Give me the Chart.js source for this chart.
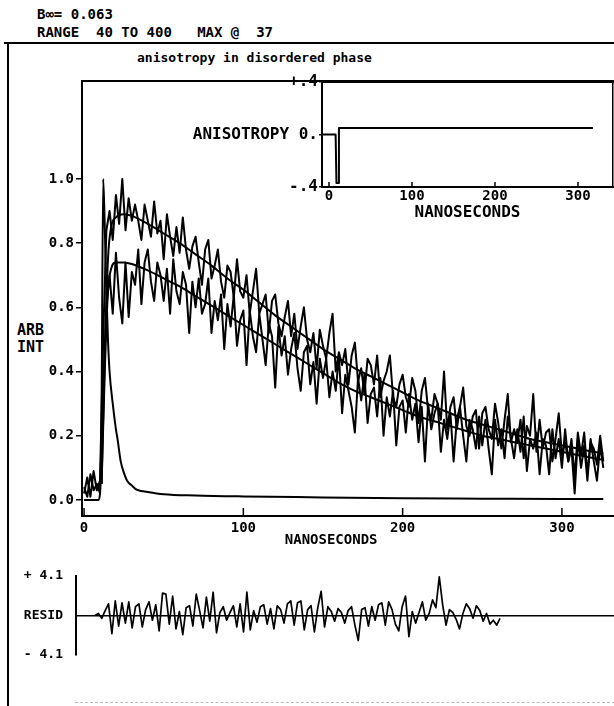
<!DOCTYPE html>
<html><head><meta charset="utf-8">
<script src="https://cdn.jsdelivr.net/npm/chart.js@4.4.1/dist/chart.umd.min.js"></script>
<style>
html,body{margin:0;padding:0;background:#fff;}
#page{position:relative;width:614px;height:706px;overflow:hidden;background:#fff;font-family:'DejaVu Sans Mono',monospace;font-weight:bold;color:#000;}
.t{position:absolute;white-space:pre;line-height:1;}
canvas{position:absolute;}
</style></head><body>
<div id="page">
  <div class="t" style="left:37px;top:7px;font-size:14px">B∞= 0.063</div>
  <div class="t" style="left:37px;top:25px;font-size:14px">RANGE  40 TO 400   MAX @  37</div>
  <div style="position:absolute;left:4px;top:42px;width:620px;height:2px;background:#000"></div>
  <div style="position:absolute;left:7px;top:42px;width:2px;height:680px;background:#000"></div>
  <div class="t" style="left:137px;top:51px;font-size:13px">anisotropy in disordered phase</div>
  <div class="t" style="left:17px;top:323px;font-size:15px">ARB</div>
  <div class="t" style="left:17px;top:340px;font-size:15px">INT</div>
  <div style="position:absolute;left:75px;top:702px;width:540px;height:0;border-top:1px dashed #bbb"></div>
  <canvas id="main" width="614" height="490" style="left:0;top:70px"></canvas>
  <canvas id="inset" width="474" height="160" style="left:140px;top:70px"></canvas>
  <canvas id="resid" width="614" height="151" style="left:0;top:555px"></canvas>
</div>
<script>
// ---------- DATA ----------
const times = [
  0,2,4,6,8,10,
  12,14,16,18,20,22,24,26,28,30,
  32,34,36,38,40,42,44,46,48,50,
  52,54,56,58,60,62,64,66,68,70,
  72,74,76,78,80,82,84,86,88,90,
  92,94,96,98,100,102,104,106,108,110,
  112,114,116,118,120,122,124,126,128,130,
  132,134,136,138,140,142,144,146,148,150,
  152,154,156,158,160,162,164,166,168,170,
  172,174,176,178,180,182,184,186,188,190,
  192,194,196,198,200,202,204,206,208,210,
  212,214,216,218,220,222,224,226,228,230,
  232,234,236,238,240,242,244,246,248,250,
  252,254,256,258,260,262,264,266,268,270,
  272,274,276,278,280,282,284,286,288,290,
  292,294,296,298,300,302,304,306,308,310,
  312,314,316,318,320,322,324,326
];
const upperData = [
  0.02,0.07,0.01,0.09,0.03,0.06,
  0.50,0.84,0.90,0.81,0.95,0.86,1.00,0.84,0.94,0.87,
  0.92,0.87,0.81,0.92,0.87,0.82,0.93,0.83,0.87,0.75,
  0.89,0.82,0.76,0.85,0.77,0.88,0.78,0.72,0.79,0.82,
  0.74,0.67,0.78,0.81,0.69,0.73,0.78,0.68,0.63,0.73,
  0.71,0.63,0.75,0.65,0.63,0.70,0.58,0.65,0.72,0.58,
  0.61,0.64,0.52,0.62,0.64,0.55,0.51,0.57,0.62,0.51,
  0.58,0.47,0.54,0.60,0.50,0.46,0.52,0.41,0.53,0.48,
  0.44,0.52,0.58,0.40,0.46,0.42,0.47,0.36,0.45,0.49,
  0.37,0.41,0.33,0.44,0.42,0.36,0.45,0.32,0.37,0.40,
  0.45,0.32,0.29,0.36,0.39,0.32,0.29,0.38,0.34,0.24,
  0.34,0.38,0.28,0.25,0.33,0.30,0.25,0.40,0.22,0.29,
  0.32,0.22,0.29,0.35,0.23,0.20,0.26,0.28,0.16,0.27,
  0.29,0.22,0.19,0.30,0.24,0.16,0.25,0.33,0.18,0.22,
  0.18,0.25,0.13,0.23,0.20,0.33,0.15,0.25,0.16,0.21,
  0.22,0.12,0.19,0.27,0.14,0.18,0.12,0.19,0.07,0.21,
  0.14,0.21,0.08,0.18,0.16,0.11,0.20,0.12
];
const lowerData = [
  0.04,0.01,0.08,0.03,0.05,0.02,
  0.35,0.60,0.70,0.58,0.77,0.63,0.55,0.74,0.57,0.71,
  0.67,0.78,0.61,0.74,0.78,0.68,0.62,0.74,0.70,0.62,
  0.72,0.58,0.75,0.65,0.61,0.71,0.67,0.52,0.68,0.60,
  0.69,0.58,0.61,0.69,0.52,0.62,0.56,0.64,0.47,0.61,
  0.54,0.64,0.48,0.56,0.59,0.42,0.59,0.51,0.46,0.58,
  0.50,0.42,0.55,0.51,0.35,0.54,0.45,0.51,0.39,0.47,
  0.52,0.41,0.34,0.46,0.48,0.36,0.43,0.30,0.44,0.38,
  0.44,0.32,0.40,0.34,0.45,0.27,0.39,0.34,0.29,0.21,
  0.38,0.31,0.39,0.24,0.33,0.35,0.26,0.38,0.20,0.32,
  0.26,0.34,0.17,0.29,0.31,0.21,0.33,0.25,0.30,0.18,
  0.29,0.12,0.30,0.22,0.27,0.30,0.15,0.25,0.19,0.27,
  0.12,0.25,0.29,0.20,0.12,0.25,0.22,0.16,0.26,0.17,
  0.25,0.16,0.08,0.25,0.17,0.22,0.13,0.26,0.19,0.13,
  0.22,0.15,0.26,0.09,0.19,0.16,0.21,0.08,0.19,0.17,
  0.08,0.22,0.13,0.19,0.10,0.22,0.12,0.16,0.02,0.19,
  0.10,0.17,0.06,0.19,0.12,0.06,0.17,0.10
];
const fitTimes = [11,13,15,17,20,25,30,40,50,60,70,80,90,100,110,120,130,140,150,160,170,180,190,200,210,220,230,240,250,260,270,280,290,300,310,320,326];
const upperFit = [0.05,0.45,0.75,0.85,0.88,0.89,0.885,0.86,0.83,0.80,0.765,0.73,0.69,0.655,0.615,0.575,0.54,0.505,0.47,0.44,0.41,0.385,0.36,0.335,0.31,0.29,0.27,0.25,0.235,0.22,0.205,0.19,0.18,0.17,0.16,0.15,0.145];
const lowerFit = [0.05,0.40,0.65,0.72,0.74,0.74,0.735,0.715,0.69,0.665,0.635,0.605,0.575,0.545,0.515,0.485,0.455,0.425,0.395,0.365,0.34,0.32,0.30,0.28,0.26,0.245,0.23,0.215,0.20,0.19,0.18,0.17,0.16,0.15,0.14,0.13,0.125];
const lampTimes = [0,9,10,11,12,13,14,15,16,18,20,21,23,25,27,30,33,40,50,70,100,150,200,250,300,326];
const lampData = [0,0,0.02,0.3,1.0,0.85,0.65,0.5,0.4,0.3,0.22,0.19,0.12,0.085,0.06,0.045,0.032,0.025,0.018,0.014,0.011,0.008,0.005,0.004,0.003,0.003];

const anisTimes = [-8,8,9,11,12,318];
const anisData = [0,0,-0.37,-0.37,0.05,0.05];

const residChannels = [
  40,43,46,49,52,55,58,61,64,67,
  70,73,76,79,82,85,88,91,94,97,
  100,103,106,109,112,115,118,121,124,127,
  130,133,136,139,142,145,148,151,154,157,
  160,163,166,169,172,175,178,181,184,187,
  190,193,196,199,202,205,208,211,214,217,
  220,223,226,229,232,235,238,241,244,247,
  250,253,256,259,262,265,268,271,274,277,
  280,283,286,289,292,295,298,301,304,307,
  310,313,316,319,322,325,328,331,334,337,
  340,343,346,349,352,355,358,361,364,367,
  370,373,376,379,382,385,388,391,394,397,
  400
];
const residData = [
  0.0,0.2,-0.3,0.5,1.2,-1.9,1.5,-1.1,1.3,-0.8,
  1.4,-1.3,0.9,1.2,-1.2,0.6,1.4,-0.5,1.1,-1.6,
  2.3,2.2,-0.9,2.0,-1.4,0.4,-2.0,0.8,1.0,-1.1,
  2.2,0.5,-1.3,1.9,-0.6,2.4,-1.8,0.3,0.9,-0.5,
  0.3,1.0,-1.2,1.2,-1.7,2.4,-1.5,0.5,-0.7,0.9,
  1.1,-0.9,0.7,-1.4,1.0,0.6,-0.8,1.2,1.5,-1.0,
  1.3,1.5,-1.5,0.6,1.0,-1.7,0.8,2.5,-1.2,0.9,
  0.4,-0.6,0.7,0.3,-0.8,0.5,0.9,-1.0,-2.6,0.6,
  0.8,-1.1,0.9,-0.5,1.1,1.3,-1.0,1.4,0.6,-0.9,
  -1.6,0.9,2.0,-2.2,0.4,-0.8,0.3,1.4,-0.5,0.2,
  1.6,0.8,4.0,1.1,-1.0,0.6,0.3,-0.4,-1.4,0.2,
  1.2,0.7,-0.3,1.0,0.5,-0.6,0.2,-0.9,-0.5,-1.0,
  -0.3
];

const mainXTicks = [0,100,200,300];
const mainYTicks = [0,0.2,0.4,0.6,0.8,1.0];
const mainYLabels = ['0.0','0.2','0.4','0.6','0.8','1.0'];
const insetXTicks = [0,100,200,300];
const insetYTicks = [-0.4,0,0.4];
const insetYLabels = ['-.4','ANISOTROPY 0.','+.4'];
const residYTicks = [-4.1,0,4.1];
const residYLabels = ['- 4.1','RESID','+ 4.1'];

// ---------- HELPERS ----------
const FONT = "'DejaVu Sans Mono', monospace";
const pts = (xs, ys) => xs.map((x,i)=>({x:x, y:ys[i]}));
const setTicks = vals => (s => { s.ticks = vals.map(v=>({value:v})); });
const innerTicks = {
  id:'innerTicks',
  afterDraw(chart, args, opts){
    if(!opts || !opts.len) return;
    const s = chart.scales.x, ctx = chart.ctx;
    ctx.save(); ctx.strokeStyle='#000'; ctx.lineWidth=1.5;
    s.ticks.forEach(t=>{
      const px = s.getPixelForValue(t.value);
      ctx.beginPath(); ctx.moveTo(px, s.top); ctx.lineTo(px, s.top - opts.len); ctx.stroke();
    });
    ctx.restore();
  }
};
Chart.defaults.font.family = FONT;
Chart.defaults.font.weight = 'bold';
Chart.defaults.color = '#000';

const lineDs = (data, w, extra) => Object.assign({data, borderColor:'#000', borderWidth:w, pointRadius:0, fill:false, tension:0, borderJoinStyle:'round'}, extra||{});
const base = {responsive:false, animation:false, devicePixelRatio:1, events:[],
  plugins:{legend:{display:false}, tooltip:{enabled:false}}};

// ---------- MAIN CHART ----------
new Chart(document.getElementById('main'), {
  type:'line',
  data:{datasets:[
    lineDs(pts(times, lowerData), 2),
    lineDs(pts(times, upperData), 2),
    lineDs(pts(fitTimes, upperFit), 2, {cubicInterpolationMode:'monotone'}),
    lineDs(pts(fitTimes, lowerFit), 2, {cubicInterpolationMode:'monotone'}),
    lineDs(pts(lampTimes, lampData), 2, {cubicInterpolationMode:'monotone'})
  ]},
  plugins:[innerTicks],
  options:Object.assign({}, base, {
    layout:{padding:{left:0, top:11, right:0, bottom:0}},
    plugins:{legend:{display:false}, tooltip:{enabled:false}, innerTicks:{len:8}},
    scales:{
      x:{type:'linear', position:'bottom', min:-1.3, max:332.7,
        afterBuildTicks:setTicks(mainXTicks),
        afterFit:s=>{s.height=44;},
        grid:{display:false, drawTicks:false},
        border:{display:true, color:'#000', width:2},
        ticks:{padding:4, font:{size:14, weight:'bold'}, maxRotation:0, autoSkip:false, callback:(v)=>String(v)},
        title:{display:true, text:'NANOSECONDS    ', font:{size:14, weight:'bold'}, padding:{top:0, bottom:11}}
      },
      xTop:{type:'linear', position:'top', min:-1.3, max:332.7, afterFit:s=>{s.height=0;},
        grid:{display:false, drawTicks:false}, ticks:{display:false},
        border:{display:true, color:'#000', width:2}},
      y:{type:'linear', position:'left', min:-0.05, max:1.305,
        afterBuildTicks:setTicks(mainYTicks),
        afterFit:s=>{s.width=82;},
        grid:{drawOnChartArea:false, color:'#000', lineWidth:1.5, tickLength:6},
        border:{display:true, color:'#000', width:2},
        ticks:{padding:2, font:{size:14, weight:'bold'}, autoSkip:false, callback:(v,i)=>mainYLabels[i]}
      }
    }
  })
});

// ---------- INSET CHART ----------
new Chart(document.getElementById('inset'), {
  type:'line',
  data:{datasets:[ lineDs(pts(anisTimes, anisData), 2) ]},
  plugins:[innerTicks],
  options:Object.assign({}, base, {
    layout:{padding:{left:0, top:12, right:1, bottom:0}},
    plugins:{legend:{display:false}, tooltip:{enabled:false}, innerTicks:{len:5}},
    scales:{
      x:{type:'linear', position:'bottom', min:-8.4, max:342.2,
        afterBuildTicks:setTicks(insetXTicks),
        afterFit:s=>{s.height=43;},
        grid:{display:false, drawTicks:false},
        border:{display:true, color:'#000', width:2},
        ticks:{padding:1, font:{size:14, weight:'bold'}, maxRotation:0, autoSkip:false, callback:(v)=>String(v)},
        title:{display:true, text:'NANOSECONDS', font:{size:16, weight:'bold'}, padding:{top:0, bottom:8}}
      },
      xTop:{type:'linear', position:'top', min:-8.4, max:342.2, afterFit:s=>{s.height=0;},
        grid:{display:false, drawTicks:false}, ticks:{display:false},
        border:{display:true, color:'#000', width:2}},
      y:{type:'linear', position:'left', min:-0.4, max:0.4,
        afterBuildTicks:setTicks(insetYTicks),
        afterFit:s=>{s.width=182;},
        grid:{drawOnChartArea:false, color:'#000', lineWidth:1.5, tickLength:3},
        border:{display:true, color:'#000', width:2},
        ticks:{padding:1, font:{size:16, weight:'bold'}, autoSkip:false, callback:(v,i)=>insetYLabels[i]}
      },
      yRight:{type:'linear', position:'right', min:-0.4, max:0.4, afterFit:s=>{s.width=0;},
        grid:{display:false, drawTicks:false}, ticks:{display:false},
        border:{display:true, color:'#000', width:1.5}}
    }
  })
});

// ---------- RESIDUAL CHART ----------
new Chart(document.getElementById('resid'), {
  type:'line',
  data:{datasets:[ lineDs(pts(residChannels, residData), 1.7) ]},
  options:Object.assign({}, base, {
    layout:{padding:{left:0, top:12, right:0, bottom:51}},
    scales:{
      x:{type:'linear', min:23.1, max:501.3, display:false},
      y:{type:'linear', position:'left', min:-4.1, max:4.1,
        afterBuildTicks:setTicks(residYTicks),
        afterFit:s=>{s.width=76;},
        grid:{drawOnChartArea:true, drawTicks:false, lineWidth:1.5,
              color:c=> (c.tick && c.tick.value===0) ? '#000' : 'rgba(0,0,0,0)'},
        border:{display:true, color:'#000', width:2},
        ticks:{padding:13, font:{size:13, weight:'bold'}, autoSkip:false, callback:(v,i)=>residYLabels[i]}
      }
    }
  })
});
</script>
</body></html>
